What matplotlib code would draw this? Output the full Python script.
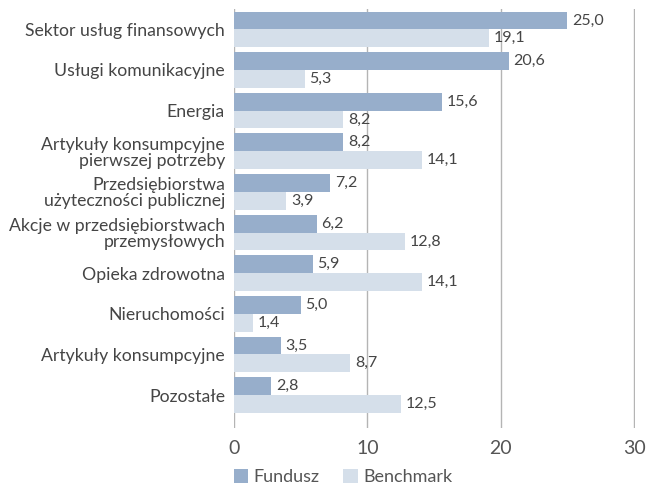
import matplotlib
matplotlib.use("Agg")
import matplotlib.pyplot as plt
import numpy as np

categories = ["Sektor usług finansowych", "Usługi komunikacyjne", "Energia",
              "Artykuły konsumpcyjne\npierwszej potrzeby",
              "Przedsiębiorstwa\nużyteczności publicznej",
              "Akcje w przedsiębiorstwach\nprzemysłowych",
              "Opieka zdrowotna", "Nieruchomości", "Artykuły konsumpcyjne", "Pozostałe"]
fundusz = [25.0, 20.6, 15.6, 8.2, 7.2, 6.2, 5.9, 5.0, 3.5, 2.8]
benchmark = [19.1, 5.3, 8.2, 14.1, 3.9, 12.8, 14.1, 1.4, 8.7, 12.5]
series_names = ["Fundusz", "Benchmark"]
xticks = [0, 10, 20, 30]

plt.rcParams['font.family'] = ['Lato', 'DejaVu Sans']
c_f = "#97aecb"
c_b = "#d5dfea"
txt = "#454545"

fig = plt.figure(figsize=(6.47, 4.88), dpi=100)
ax = fig.add_axes([234/647, 1-428/488, 401/647, 419/488])

y = np.arange(len(categories))
h = 0.437
ax.barh(y - h/2, fundusz, height=h, color=c_f, label=series_names[0], zorder=3)
ax.barh(y + h/2, benchmark, height=h, color=c_b, label=series_names[1], zorder=3)

def fmt(v):
    return f"{v:.1f}".replace(".", ",")

for yi, v in zip(y, fundusz):
    ax.annotate(fmt(v), (v, yi - h/2), xytext=(3.5, 0), textcoords="offset points",
                va="center", ha="left", fontsize=11.5, color=txt, zorder=4)
for yi, v in zip(y, benchmark):
    ax.annotate(fmt(v), (v, yi + h/2), xytext=(3.5, 0), textcoords="offset points",
                va="center", ha="left", fontsize=11.5, color=txt, zorder=4)

ax.set_xlim(0, 30.075)
ax.set_ylim(9.81, -0.5)
ax.set_xticks(xticks)
ax.set_xticklabels([str(t) for t in xticks], fontsize=14, color="#555555")
ax.set_yticks(y)
ax.set_yticklabels(categories, fontsize=12.7, color=txt, linespacing=1.0)
ax.tick_params(axis="both", length=0)
ax.tick_params(axis="x", pad=9)
ax.tick_params(axis="y", pad=6.5)
for s in ax.spines.values():
    s.set_visible(False)
ax.grid(axis="x", color="#b4b4b4", linewidth=1, zorder=0)
ax.grid(axis="y", visible=False)

leg = fig.legend(loc="lower left", bbox_to_anchor=(234/647, 3/488), ncol=2, frameon=False,
                 fontsize=13, handlelength=0.8, handleheight=0.8, handletextpad=0.3,
                 columnspacing=1.3, labelcolor="#555555", borderpad=0, borderaxespad=0)

fig.savefig("out.png", dpi=100)
